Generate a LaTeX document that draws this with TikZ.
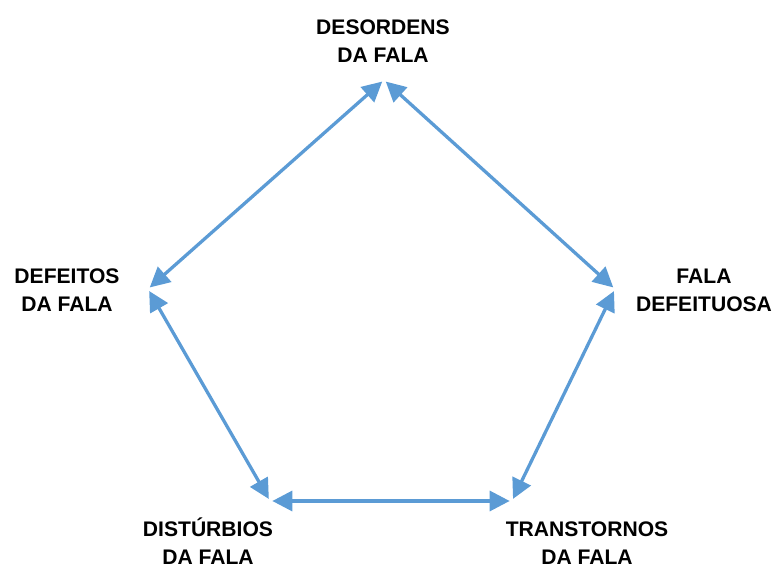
\documentclass[tikz,border=0pt]{standalone}
\usepackage{fontspec}
\setmainfont{Liberation Sans}
\usetikzlibrary{arrows.meta}
\definecolor{falablue}{RGB}{91,155,213}
\tikzset{
	termo/.style={font=\fontsize{18}{24}\selectfont\bfseries, align=center, inner sep=0pt},
	liga/.style={falablue, line width=2.8pt, {Triangle[length=17pt,width=17pt]}-{Triangle[length=17pt,width=17pt]}, shorten <=2pt, shorten >=2pt}
}
\begin{document}
\begin{tikzpicture}[x=0.03cm,y=-0.03cm]
	\useasboundingbox (0,0) rectangle (775,570);
	% termos
	\node[termo] (desordens) at (383,41) {DESORDENS\\DA FALA};
	\node[termo] (defeitos) at (67,290) {DEFEITOS\\DA FALA};
	\node[termo] (defeituosa) at (704,290) {FALA\\DEFEITUOSA};
	\node[termo] (disturbios) at (208,541) {DISTÚRBIOS\\DA FALA};
	\node[termo] (transtornos) at (587,543) {TRANSTORNOS\\DA FALA};
	% vertices
	\coordinate (vtop) at (384,80);
	\coordinate (vesq) at (148,289);
	\coordinate (vdir) at (615,289);
	\coordinate (vbesq) at (270,501);
	\coordinate (vbdir) at (512,501);
	% ligacoes
	\draw[liga] (vtop) -- (vesq);
	\draw[liga] (vtop) -- (vdir);
	\draw[liga] (vesq) -- (vbesq);
	\draw[liga] (vdir) -- (vbdir);
	\draw[liga] (vbesq) -- (vbdir);
\end{tikzpicture}
\end{document}
